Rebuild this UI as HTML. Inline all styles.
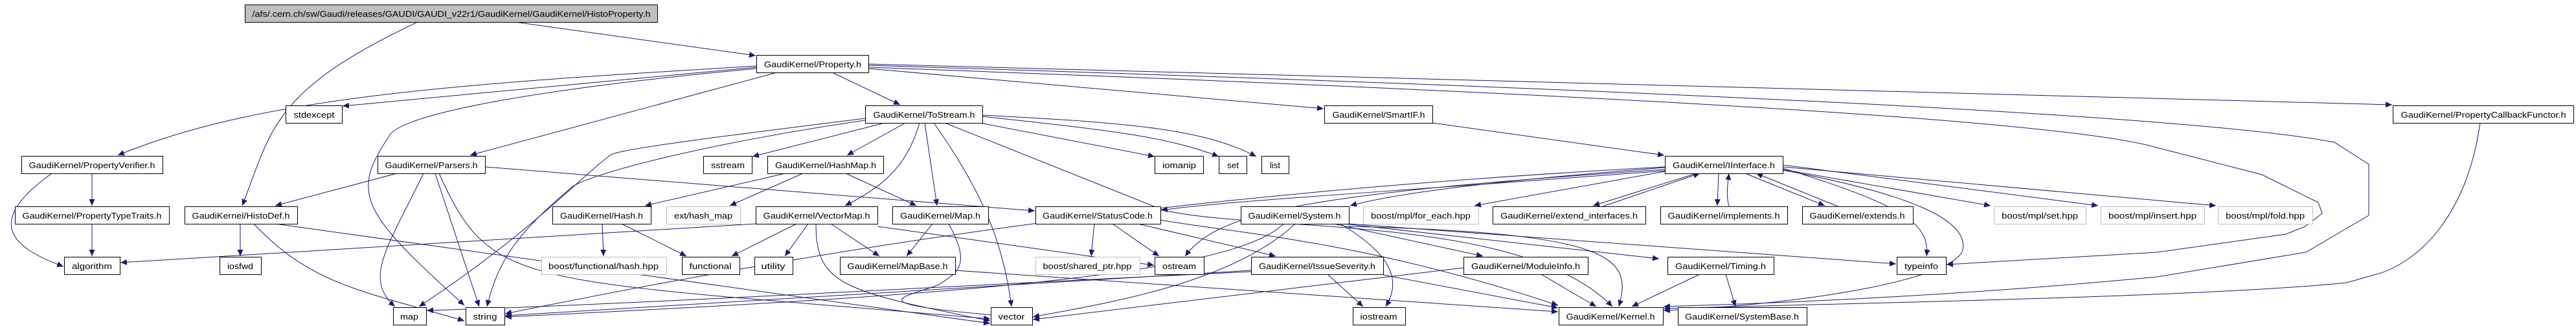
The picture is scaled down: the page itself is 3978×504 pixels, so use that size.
<!DOCTYPE html>
<html><head><meta charset="utf-8"><style>
html,body{margin:0;padding:0;background:#fff;width:3978px;height:504px;overflow:hidden}
svg text{font-family:"Liberation Sans",sans-serif;font-size:13px;fill:#000}
</style></head><body>
<svg width="3978" height="504" viewBox="0 0 3978 504" xmlns="http://www.w3.org/2000/svg">
<defs><marker id="a" markerUnits="userSpaceOnUse" markerWidth="11" markerHeight="9" refX="10" refY="4.5" orient="auto"><path d="M0,0 L10,4.5 L0,9 z" fill="#191970"/></marker></defs>
<g fill="none" stroke="#191970" stroke-width="1" marker-end="url(#a)">
<path d="M645,34 C420,140 420,200 374,318"/>
<path d="M795,34 L1167,86"/>
<path d="M1168,102 C700,130 400,150 182,240"/>
<path d="M1168,104 L529,164"/>
<path d="M1168,106 C800,140 610,180 600,212 C540,300 560,330 717,472"/>
<path d="M1200,112 L726,240"/>
<path d="M1285,112 L1390,162"/>
<path d="M1341,106 L2044,168"/>
<path d="M1341,99 L3694,162"/>
<path d="M1341,101 C2600,140 3400,180 3605,220 L3658,254 L3658,333 L3561,390 L3331,428 C3000,460 2700,470 2569,474"/>
<path d="M1341,104 C2600,150 3200,190 3330,228 L3493,270 L3580,313 L3586,330 L3560,350 L3530,362 L3331,390 L3006,409"/>
<path d="M3830,190 C3810,330 3740,400 3677,422 L3624,437 C3400,460 2800,470 2569,477"/>
<path d="M1336,183 C1120,210 960,230 944,239 C900,270 820,360 647,474"/>
<path d="M1336,186 C1100,220 900,270 880,292 C800,360 770,400 752,474"/>
<path d="M1366,190 L1162,242"/>
<path d="M1398,190 L1308,240"/>
<path d="M1420,190 C1400,260 1360,290 1305,318"/>
<path d="M1428,190 L1447,318"/>
<path d="M1442,190 C1520,300 1550,380 1562,474"/>
<path d="M1459,190 L1797,325 C1950,360 2350,330 2490,474"/>
<path d="M1513,190 L1783,242"/>
<path d="M1517,180 C1700,200 1800,210 1882,242"/>
<path d="M1517,178 C1750,190 1860,200 1940,242"/>
<path d="M1213,268 L996,318"/>
<path d="M1240,268 L1127,318"/>
<path d="M1306,268 L1415,318"/>
<path d="M613,268 L425,318"/>
<path d="M749,258 L1598,326"/>
<path d="M654,268 C600,380 560,430 610,474"/>
<path d="M672,268 L740,474"/>
<path d="M678,268 C760,450 800,430 1529,493"/>
<path d="M80,268 C-20,340 10,380 98,412"/>
<path d="M142,268 L142,318"/>
<path d="M142,346 L142,396"/>
<path d="M371,346 L371,396"/>
<path d="M392,346 C480,440 560,450 717,496"/>
<path d="M425,346 L1529,500"/>
<path d="M930,346 L932,396"/>
<path d="M960,346 L1060,396"/>
<path d="M1167,346 L186,406"/>
<path d="M1230,346 L1130,396"/>
<path d="M1248,346 L1212,396"/>
<path d="M1260,346 C1260,440 1300,450 1529,496"/>
<path d="M1283,346 L1358,396"/>
<path d="M1355,350 L1782,410"/>
<path d="M1440,346 L1400,396"/>
<path d="M1465,346 C1500,410 1480,420 1450,440 C1400,460 1300,470 1595,492"/>
<path d="M1475,418 L2406,482"/>
<path d="M1690,346 L1685,396"/>
<path d="M1718,346 L1790,396"/>
<path d="M1757,346 L1970,396"/>
<path d="M1792,340 C1900,360 2100,370 2406,472"/>
<path d="M1982,346 C1900,430 1400,460 780,490"/>
<path d="M2060,346 L2290,396"/>
<path d="M2075,346 L2562,400"/>
<path d="M2083,346 L2928,408"/>
<path d="M2070,346 C2160,400 2160,440 2140,474"/>
<path d="M2083,350 C2500,360 2520,400 2500,474"/>
<path d="M2000,346 C1900,440 1700,470 1595,490"/>
<path d="M2050,424 L2105,474"/>
<path d="M2136,425 L2406,476"/>
<path d="M1932,420 C1500,440 1000,470 659,480"/>
<path d="M1932,418 L780,488"/>
<path d="M2380,424 L2465,474"/>
<path d="M2260,414 L1595,494"/>
<path d="M2625,424 L2520,474"/>
<path d="M2665,424 L2680,474"/>
<path d="M2571,259 C2300,280 2150,300 2085,318"/>
<path d="M2571,265 L2277,318"/>
<path d="M2620,268 L2460,318"/>
<path d="M2475,319 L2625,268"/>
<path d="M2654,268 L2652,318"/>
<path d="M2670,319 C2665,300 2668,285 2670,268"/>
<path d="M2695,268 L2818,318"/>
<path d="M2838,319 L2712,268"/>
<path d="M2753,260 C2950,320 2980,350 2975,396"/>
<path d="M2753,262 L3074,318"/>
<path d="M2753,255 L3240,318"/>
<path d="M2753,258 L3422,318"/>
<path d="M2571,258 C1800,300 1300,380 780,485"/>
<path d="M2571,264 C2100,300 1900,310 1793,325"/>
<path d="M2571,262 C2000,300 1880,330 1830,396"/>
<path d="M2753,263 C2950,300 3040,340 3031,386 C3020,430 2800,470 2569,480"/>
<path d="M2212,190 L2570,240"/>
</g>
<g stroke-width="1">
<rect x="378.5" y="7.5" width="637" height="27" fill="#bfbfbf" stroke="#000"/>
<g fill="#fff" stroke="#000">
<rect x="1168.5" y="85.5" width="173" height="27"/>
<rect x="441.5" y="163.5" width="87" height="27"/>
<rect x="1336.5" y="163.5" width="181" height="27"/>
<rect x="2045.5" y="163.5" width="167" height="27"/>
<rect x="3695.5" y="163.5" width="279" height="27"/>
<rect x="33.5" y="241.5" width="218" height="27"/>
<rect x="583.5" y="241.5" width="166" height="27"/>
<rect x="1086.5" y="241.5" width="75" height="27"/>
<rect x="1185.5" y="241.5" width="179" height="27"/>
<rect x="1783.5" y="241.5" width="75" height="27"/>
<rect x="1882.5" y="241.5" width="43" height="27"/>
<rect x="1948.5" y="241.5" width="42" height="27"/>
<rect x="2571.5" y="241.5" width="182" height="27"/>
<rect x="23.5" y="319.5" width="238" height="27"/>
<rect x="285.5" y="319.5" width="174" height="27"/>
<rect x="853.5" y="319.5" width="152" height="27"/>
<rect x="1167.5" y="319.5" width="188" height="27"/>
<rect x="1378.5" y="319.5" width="148" height="27"/>
<rect x="1599.5" y="319.5" width="193" height="27"/>
<rect x="1916.5" y="319.5" width="167" height="27"/>
<rect x="2305.5" y="319.5" width="236" height="27"/>
<rect x="2564.5" y="319.5" width="196" height="27"/>
<rect x="2783.5" y="319.5" width="171" height="27"/>
<rect x="99.5" y="397.5" width="86" height="27"/>
<rect x="339.5" y="397.5" width="64" height="27"/>
<rect x="1053.5" y="397.5" width="89" height="27"/>
<rect x="1165.5" y="397.5" width="59" height="27"/>
<rect x="1297.5" y="397.5" width="178" height="27"/>
<rect x="1783.5" y="397.5" width="76" height="27"/>
<rect x="1932.5" y="397.5" width="204" height="27"/>
<rect x="2260.5" y="397.5" width="192" height="27"/>
<rect x="2575.5" y="397.5" width="164" height="27"/>
<rect x="2929.5" y="397.5" width="76" height="27"/>
<rect x="607.5" y="475.5" width="51" height="27"/>
<rect x="719.5" y="475.5" width="60" height="27"/>
<rect x="1530.5" y="475.5" width="64" height="27"/>
<rect x="2089.5" y="475.5" width="81" height="27"/>
<rect x="2407.5" y="475.5" width="161" height="27"/>
<rect x="2591.5" y="475.5" width="199" height="27"/>
</g>
<g fill="#fff" stroke="#bfbfbf">
<rect x="1029.5" y="319.5" width="114" height="27"/>
<rect x="2105.5" y="319.5" width="178" height="27"/>
<rect x="3079.5" y="319.5" width="142" height="27"/>
<rect x="3244.5" y="319.5" width="160" height="27"/>
<rect x="3425.5" y="319.5" width="146" height="27"/>
<rect x="836.5" y="397.5" width="193" height="27"/>
<rect x="1599.5" y="397.5" width="161" height="27"/>
</g>
</g>
<g text-anchor="middle" lengthAdjust="spacingAndGlyphs">
<text x="697" y="26" textLength="615" lengthAdjust="spacingAndGlyphs">/afs/.cern.ch/sw/Gaudi/releases/GAUDI/GAUDI_v22r1/GaudiKernel/GaudiKernel/HistoProperty.h</text>
<text x="1255" y="104" textLength="150" lengthAdjust="spacingAndGlyphs">GaudiKernel/Property.h</text>
<text x="485" y="182" textLength="63" lengthAdjust="spacingAndGlyphs">stdexcept</text>
<text x="1427" y="182" textLength="157" lengthAdjust="spacingAndGlyphs">GaudiKernel/ToStream.h</text>
<text x="2129" y="182" textLength="143" lengthAdjust="spacingAndGlyphs">GaudiKernel/SmartIF.h</text>
<text x="3835" y="182" textLength="255" lengthAdjust="spacingAndGlyphs">GaudiKernel/PropertyCallbackFunctor.h</text>
<text x="142" y="260" textLength="195" lengthAdjust="spacingAndGlyphs">GaudiKernel/PropertyVerifier.h</text>
<text x="666" y="260" textLength="143" lengthAdjust="spacingAndGlyphs">GaudiKernel/Parsers.h</text>
<text x="1124" y="260" textLength="52" lengthAdjust="spacingAndGlyphs">sstream</text>
<text x="1275" y="260" textLength="156" lengthAdjust="spacingAndGlyphs">GaudiKernel/HashMap.h</text>
<text x="1821" y="260" textLength="52" lengthAdjust="spacingAndGlyphs">iomanip</text>
<text x="1904" y="260" textLength="18" lengthAdjust="spacingAndGlyphs">set</text>
<text x="1969" y="260" textLength="16" lengthAdjust="spacingAndGlyphs">list</text>
<text x="2662" y="260" textLength="158" lengthAdjust="spacingAndGlyphs">GaudiKernel/IInterface.h</text>
<text x="142" y="338" textLength="215" lengthAdjust="spacingAndGlyphs">GaudiKernel/PropertyTypeTraits.h</text>
<text x="372" y="338" textLength="151" lengthAdjust="spacingAndGlyphs">GaudiKernel/HistoDef.h</text>
<text x="929" y="338" textLength="128" lengthAdjust="spacingAndGlyphs">GaudiKernel/Hash.h</text>
<text x="1086" y="338" textLength="90" lengthAdjust="spacingAndGlyphs">ext/hash_map</text>
<text x="1261" y="338" textLength="165" lengthAdjust="spacingAndGlyphs">GaudiKernel/VectorMap.h</text>
<text x="1452" y="338" textLength="124" lengthAdjust="spacingAndGlyphs">GaudiKernel/Map.h</text>
<text x="1695" y="338" textLength="170" lengthAdjust="spacingAndGlyphs">GaudiKernel/StatusCode.h</text>
<text x="1999" y="338" textLength="143" lengthAdjust="spacingAndGlyphs">GaudiKernel/System.h</text>
<text x="2194" y="338" textLength="154" lengthAdjust="spacingAndGlyphs">boost/mpl/for_each.hpp</text>
<text x="2423" y="338" textLength="212" lengthAdjust="spacingAndGlyphs">GaudiKernel/extend_interfaces.h</text>
<text x="2662" y="338" textLength="173" lengthAdjust="spacingAndGlyphs">GaudiKernel/implements.h</text>
<text x="2868" y="338" textLength="147" lengthAdjust="spacingAndGlyphs">GaudiKernel/extends.h</text>
<text x="3150" y="338" textLength="118" lengthAdjust="spacingAndGlyphs">boost/mpl/set.hpp</text>
<text x="3324" y="338" textLength="136" lengthAdjust="spacingAndGlyphs">boost/mpl/insert.hpp</text>
<text x="3498" y="338" textLength="122" lengthAdjust="spacingAndGlyphs">boost/mpl/fold.hpp</text>
<text x="142" y="416" textLength="62" lengthAdjust="spacingAndGlyphs">algorithm</text>
<text x="371" y="416" textLength="40" lengthAdjust="spacingAndGlyphs">iosfwd</text>
<text x="932" y="416" textLength="170" lengthAdjust="spacingAndGlyphs">boost/functional/hash.hpp</text>
<text x="1097" y="416" textLength="65" lengthAdjust="spacingAndGlyphs">functional</text>
<text x="1194" y="416" textLength="37" lengthAdjust="spacingAndGlyphs">utility</text>
<text x="1386" y="416" textLength="155" lengthAdjust="spacingAndGlyphs">GaudiKernel/MapBase.h</text>
<text x="1679" y="416" textLength="137" lengthAdjust="spacingAndGlyphs">boost/shared_ptr.hpp</text>
<text x="1821" y="416" textLength="52" lengthAdjust="spacingAndGlyphs">ostream</text>
<text x="2034" y="416" textLength="180" lengthAdjust="spacingAndGlyphs">GaudiKernel/IssueSeverity.h</text>
<text x="2356" y="416" textLength="168" lengthAdjust="spacingAndGlyphs">GaudiKernel/ModuleInfo.h</text>
<text x="2657" y="416" textLength="140" lengthAdjust="spacingAndGlyphs">GaudiKernel/Timing.h</text>
<text x="2967" y="416" textLength="52" lengthAdjust="spacingAndGlyphs">typeinfo</text>
<text x="632" y="494" textLength="28" lengthAdjust="spacingAndGlyphs">map</text>
<text x="749" y="494" textLength="37" lengthAdjust="spacingAndGlyphs">string</text>
<text x="1562" y="494" textLength="41" lengthAdjust="spacingAndGlyphs">vector</text>
<text x="2129" y="494" textLength="57" lengthAdjust="spacingAndGlyphs">iostream</text>
<text x="2487" y="494" textLength="137" lengthAdjust="spacingAndGlyphs">GaudiKernel/Kernel.h</text>
<text x="2690" y="494" textLength="176" lengthAdjust="spacingAndGlyphs">GaudiKernel/SystemBase.h</text>
</g>
</svg>
</body></html>
